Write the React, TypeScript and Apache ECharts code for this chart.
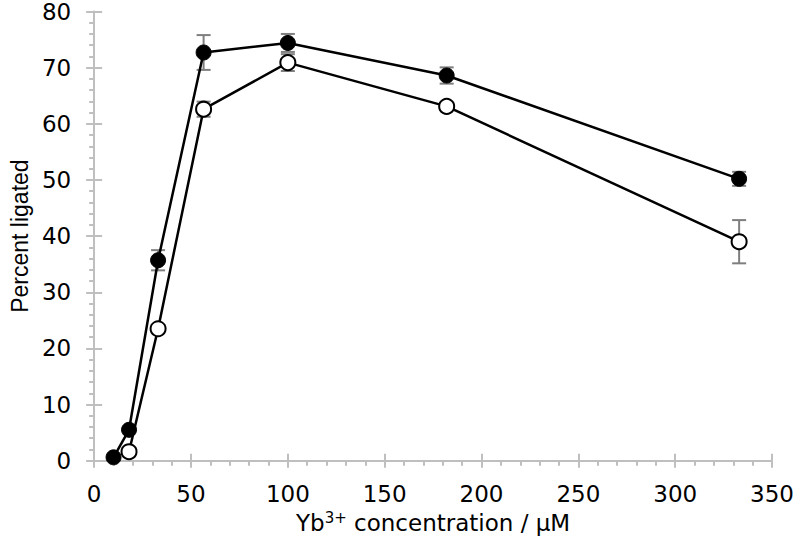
import React, { useEffect, useRef } from "react";
import * as echarts from "echarts";

const filledX = [10, 18, 33, 56.5, 100, 182, 333];
const filledY = [0.6, 5.5, 35.7, 72.7, 74.4, 68.6, 50.2];
const filledErr = [0, 0, 1.8, 3.1, 1.6, 1.45, 1.25];

const openX = [18, 33, 56.5, 100, 182, 333];
const openY = [1.6, 23.5, 62.6, 70.9, 63.1, 39.0];
const openErr = [0, 0, 1.35, 1.5, 0, 3.85];

const xTicks = [0, 50, 100, 150, 200, 250, 300, 350];
const yTicks = [0, 10, 20, 30, 40, 50, 60, 70, 80];

const FONT = "'Liberation Sans', Arial, sans-serif";
const WIDE_FONT = "'DejaVu Sans', 'Liberation Sans', sans-serif";
const AXIS_GRAY = "#bfbfbf";
const ERR_GRAY = "#7f7f7f";

function errorData(xs: number[], ys: number[], es: number[]) {
  return xs
    .map((x, i) => [x, ys[i] - es[i], ys[i] + es[i]])
    .filter((d, i) => es[i] > 0);
}

function renderErr(params: any, api: any) {
  const x = api.value(0);
  const lo = api.coord([x, api.value(1)]);
  const hi = api.coord([x, api.value(2)]);
  const half = 7;
  const style = { stroke: ERR_GRAY, lineWidth: 2 };
  return {
    type: "group",
    children: [
      { type: "line", shape: { x1: lo[0], y1: lo[1], x2: hi[0], y2: hi[1] }, style },
      { type: "line", shape: { x1: lo[0] - half, y1: lo[1], x2: lo[0] + half, y2: lo[1] }, style },
      { type: "line", shape: { x1: hi[0] - half, y1: hi[1], x2: hi[0] + half, y2: hi[1] }, style },
    ],
  };
}

export default function App() {
  const ref = useRef<HTMLDivElement>(null);
  useEffect(() => {
    if (!ref.current) return;
    const chart = echarts.init(ref.current, null, { renderer: "svg" });
    const xMin = xTicks[0];
    const xMax = xTicks[xTicks.length - 1];
    const yMin = yTicks[0];
    const yMax = yTicks[yTicks.length - 1];
    const labelStyle = { color: "#000", fontFamily: WIDE_FONT, fontSize: 23 };
    chart.setOption({
      animation: false,
      backgroundColor: "#fff",
      grid: { left: 90.7, right: 22, top: 10.7, bottom: 92.3, containLabel: false },
      xAxis: [
        {
          type: "value",
          min: xMin,
          max: xMax,
          interval: 50,
          position: "bottom",
          name: "Yb{sup|3+} concentration / μM",
          nameLocation: "middle",
          nameGap: 50,
          nameTextStyle: {
            color: "#000",
            fontFamily: WIDE_FONT,
            fontSize: 23,
            rich: {
              sup: { fontSize: 15, verticalAlign: "top", padding: [0, 0, 10, 0], color: "#000", fontFamily: WIDE_FONT },
            },
          },
          axisLine: { show: true, lineStyle: { color: AXIS_GRAY, width: 2 } },
          axisTick: { show: true, inside: false, length: 7, lineStyle: { color: AXIS_GRAY, width: 2 } },
          minorTick: { show: true, splitNumber: 5, length: 5, lineStyle: { color: AXIS_GRAY, width: 2 } },
          splitLine: { show: false },
          axisLabel: { ...labelStyle, margin: 22 },
        },
        {
          type: "value",
          min: xMin,
          max: xMax,
          interval: 50,
          position: "bottom",
          axisLine: { show: false },
          axisTick: { show: true, inside: true, length: 7, lineStyle: { color: AXIS_GRAY, width: 2 } },
          axisLabel: { show: false },
          splitLine: { show: false },
        },
      ],
      yAxis: [
        {
          type: "value",
          min: yMin,
          max: yMax,
          interval: 10,
          position: "left",
          name: "Percent ligated",
          nameLocation: "middle",
          nameGap: 60,
          nameRotate: 90,
          nameTextStyle: { color: "#000", fontFamily: FONT, fontSize: 23 },
          axisLine: { show: true, lineStyle: { color: AXIS_GRAY, width: 2 } },
          axisTick: { show: true, inside: false, length: 8, lineStyle: { color: AXIS_GRAY, width: 2 } },
          minorTick: { show: true, splitNumber: 5, length: 5, lineStyle: { color: AXIS_GRAY, width: 2 } },
          splitLine: { show: false },
          axisLabel: { ...labelStyle, margin: 23 },
        },
        {
          type: "value",
          min: yMin,
          max: yMax,
          interval: 10,
          position: "left",
          axisLine: { show: false },
          axisTick: { show: true, inside: true, length: 8, lineStyle: { color: AXIS_GRAY, width: 2 } },
          axisLabel: { show: false },
          splitLine: { show: false },
        },
      ],
      series: [
        {
          type: "custom",
          name: "filledErr",
          renderItem: renderErr,
          data: errorData(filledX, filledY, filledErr),
          encode: { x: 0, y: [1, 2] },
          z: 1,
          silent: true,
        },
        {
          type: "custom",
          name: "openErr",
          renderItem: renderErr,
          data: errorData(openX, openY, openErr),
          encode: { x: 0, y: [1, 2] },
          z: 1,
          silent: true,
        },
        {
          type: "line",
          name: "open",
          data: openX.map((x, i) => [x, openY[i]]),
          symbol: "circle",
          symbolSize: 15,
          showAllSymbol: true,
          lineStyle: { color: "#000", width: 2.5 },
          itemStyle: { color: "#fff", borderColor: "#000", borderWidth: 2 },
          z: 3,
        },
        {
          type: "line",
          name: "filled",
          data: filledX.map((x, i) => [x, filledY[i]]),
          symbol: "circle",
          symbolSize: 15,
          showAllSymbol: true,
          lineStyle: { color: "#000", width: 2.5 },
          itemStyle: { color: "#000", borderColor: "#000", borderWidth: 1 },
          z: 4,
        },
      ],
    });
    return () => chart.dispose();
  }, []);
  return (
    <div
      ref={ref}
      style={{ position: "fixed", left: 0, top: 0, width: 797, height: 553, background: "#fff" }}
    />
  );
}
